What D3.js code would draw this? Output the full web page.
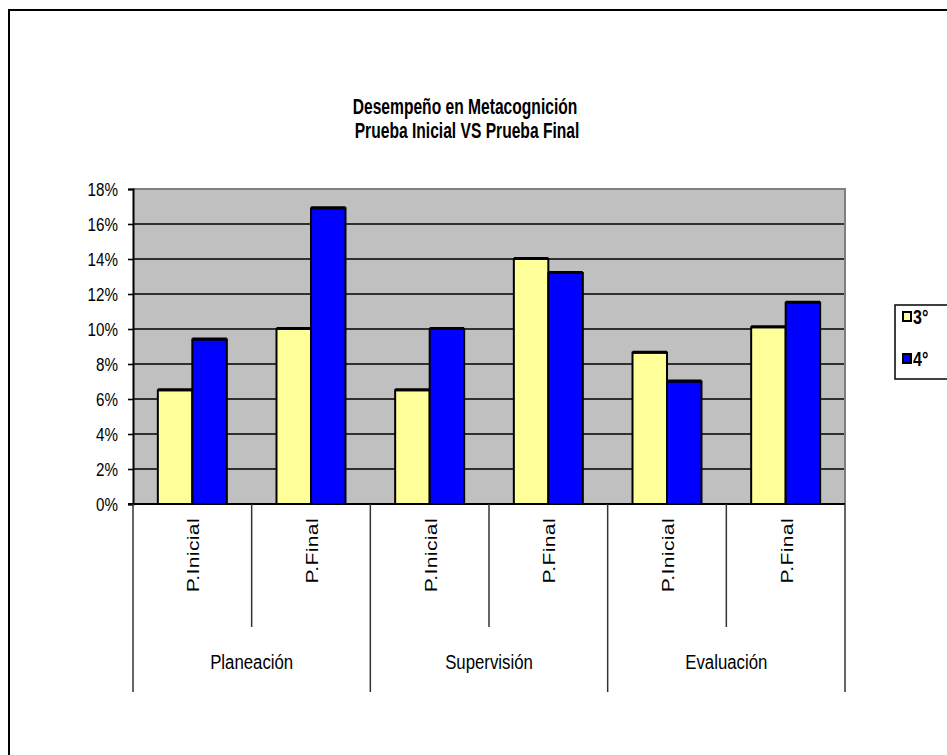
<!DOCTYPE html>
<html>
<head>
<meta charset="utf-8">
<script src="https://cdn.jsdelivr.net/npm/d3@7"></script>
<style>
  html, body { margin: 0; padding: 0; background: #fff; overflow: hidden; }
  text { font-family: "Liberation Sans", Arial, sans-serif; fill: #000; }
</style>
</head>
<body>
<script>
// chart data
let groups = ["Planeación", "Supervisión", "Evaluación"];
let tests = ["P.Inicial", "P.Final"];
let seriesNames = ["3°", "4°"];
let grade3 = [6.5, 10.0, 6.5, 14.0, 8.65, 10.1];
let grade4 = [9.4, 16.9, 10.0, 13.2, 7.0, 11.5];
let yTicks = [0, 2, 4, 6, 8, 10, 12, 14, 16, 18];
let colours = ["#FFFF99", "#0000FF"];

let width = 947, height = 755;
let plot = {left: 133, right: 845, top: 189, bottom: 504};
let squeeze = 0.8; // the source chart's text is horizontally condensed

let svg = d3.select("body").append("svg")
    .attr("width", width)
    .attr("height", height);

// outer chart border (runs off the window on right/bottom)
svg.append("rect")
    .attr("x", 9).attr("y", 10)
    .attr("width", 960).attr("height", 770)
    .attr("fill", "#fff")
    .attr("stroke", "#000")
    .attr("stroke-width", 2);

// build rows: one per group x test
let rows = [];
groups.forEach((g, gi) => {
    tests.forEach((t, ti) => {
        let i = gi * tests.length + ti;
        rows.push({group: g, test: t, idx: i, values: [grade3[i], grade4[i]]});
    });
});

let x0 = d3.scaleBand()
    .domain(rows.map(d => d.idx))
    .range([plot.left, plot.right]);

let x1 = d3.scaleBand()
    .domain(d3.range(seriesNames.length))
    .range([0, x0.bandwidth()])
    .paddingOuter(0.72);

let xg = d3.scaleBand()
    .domain(groups)
    .range([plot.left, plot.right]);

let y = d3.scaleLinear()
    .domain([0, 18])
    .range([plot.bottom, plot.top]);

// plot area
svg.append("rect")
    .attr("x", plot.left).attr("y", plot.top)
    .attr("width", plot.right - plot.left)
    .attr("height", plot.bottom - plot.top)
    .attr("fill", "#C0C0C0");

// grid lines
svg.append("g")
    .selectAll("line")
    .data(yTicks.filter(t => t > 0 && t < 18))
    .join("line")
    .attr("x1", plot.left).attr("x2", plot.right)
    .attr("y1", d => y(d)).attr("y2", d => y(d))
    .attr("stroke", "#000")
    .attr("stroke-width", 1.6);

// top and right border of plot area
svg.append("path")
    .attr("d", `M${plot.left},${y(18)}H${plot.right}V${plot.bottom}`)
    .attr("fill", "none")
    .attr("stroke", "#808080")
    .attr("stroke-width", 2);

// bars
let barG = svg.append("g")
    .selectAll("g")
    .data(rows)
    .join("g")
    .attr("transform", d => `translate(${x0(d.idx)},0)`);

barG.selectAll("rect")
    .data(d => d.values.map((v, s) => ({v, s})))
    .join("rect")
    .attr("x", d => x1(d.s))
    .attr("y", d => y(d.v))
    .attr("width", x1.bandwidth())
    .attr("height", d => y(0) - y(d.v))
    .attr("fill", d => colours[d.s])
    .attr("stroke", "#000")
    .attr("stroke-width", 2);

barG.selectAll("line")
    .data(d => d.values.map((v, s) => ({v, s})))
    .join("line")
    .attr("x1", d => x1(d.s))
    .attr("x2", d => x1(d.s) + x1.bandwidth())
    .attr("y1", d => y(d.v) - 0.5)
    .attr("y2", d => y(d.v) - 0.5)
    .attr("stroke", "#000")
    .attr("stroke-width", 3);

// y axis
let yAxis = svg.append("g")
    .attr("transform", `translate(${plot.left},0)`)
    .call(d3.axisLeft(y).tickValues(yTicks).tickFormat(d => d + "%").tickSize(5).tickPadding(10));
yAxis.select(".domain").attr("stroke", "#000").attr("stroke-width", 2);
yAxis.selectAll(".tick line").attr("stroke", "#000").attr("stroke-width", 1.6);
yAxis.selectAll(".tick text")
    .attr("font-size", 19)
    .attr("x", -15 / squeeze)
    .attr("transform", `scale(${squeeze},1)`)
    .style("font-family", "'Liberation Sans', Arial, sans-serif");

// x axis baseline
svg.append("line")
    .attr("x1", plot.left - 5).attr("x2", plot.right)
    .attr("y1", y(0)).attr("y2", y(0))
    .attr("stroke", "#000")
    .attr("stroke-width", 2);

// category separators: short ones between tests, long ones between groups
let cut = x0.domain().concat([rows.length]);
svg.append("g")
    .selectAll("line")
    .data(cut)
    .join("line")
    .attr("x1", d => d < rows.length ? x0(d) : plot.right)
    .attr("x2", d => d < rows.length ? x0(d) : plot.right)
    .attr("y1", y(0))
    .attr("y2", d => d % tests.length === 0 ? 692 : 627)
    .attr("stroke", "#333")
    .attr("stroke-width", 1.5);

// rotated test labels
svg.append("g")
    .selectAll("text")
    .data(rows)
    .join("text")
    .attr("transform", d => `translate(${x0(d.idx) + x0.bandwidth() / 2 + 7},518) scale(${squeeze},1) rotate(-90)`)
    .attr("text-anchor", "end")
    .attr("font-size", 21)
    .attr("letter-spacing", 0.4)
    .text(d => d.test);

// group labels
svg.append("g")
    .selectAll("text")
    .data(groups)
    .join("text")
    .attr("transform", d => `translate(${xg(d) + xg.bandwidth() / 2},669) scale(${squeeze},1)`)
    .attr("text-anchor", "middle")
    .attr("font-size", 21)
    .text(d => d);

// title
let titleLines = ["Desempeño en Metacognición", "Prueba Inicial VS Prueba Final"];
svg.append("g")
    .selectAll("text")
    .data(titleLines)
    .join("text")
    .attr("transform", (d, i) => `translate(${465 + i * 2},${114 + i * 24}) scale(0.71,1)`)
    .attr("text-anchor", "middle")
    .attr("font-size", 22)
    .attr("font-weight", "bold")
    .text(d => d);

// legend
let legend = svg.append("g");
legend.append("rect")
    .attr("x", 895).attr("y", 305)
    .attr("width", 60).attr("height", 74)
    .attr("fill", "#fff")
    .attr("stroke", "#000")
    .attr("stroke-width", 1.5);

let ly = d3.scalePoint().domain(seriesNames).range([316, 358]);
let item = legend.selectAll("g.item")
    .data(seriesNames)
    .join("g")
    .attr("class", "item")
    .attr("transform", d => `translate(903,${ly(d)})`);
item.append("rect")
    .attr("x", 0).attr("y", -4)
    .attr("width", 8).attr("height", 9)
    .attr("fill", (d, i) => colours[i])
    .attr("stroke", "#000")
    .attr("stroke-width", 2);
item.append("text")
    .attr("transform", `translate(10,8) scale(${squeeze},1)`)
    .attr("font-size", 20)
    .attr("font-weight", "bold")
    .text(d => d);
</script>
</body>
</html>
